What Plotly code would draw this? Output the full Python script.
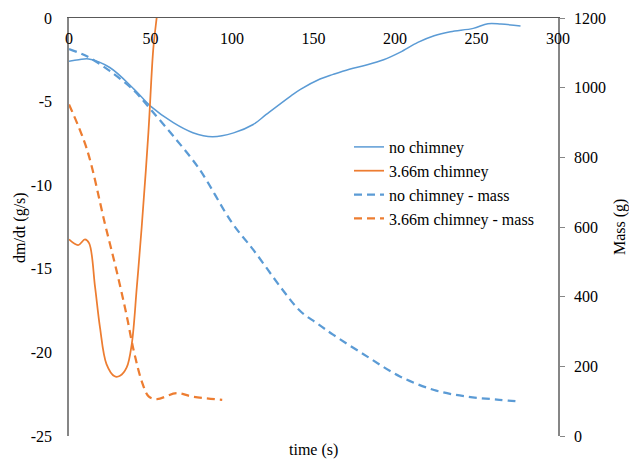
import plotly.graph_objects as go

# no chimney: dm/dt (g/s)
t_nc = [0, 6, 12, 25, 40, 50, 64, 76, 88, 101, 113, 121, 136, 142, 154, 162, 172, 183, 193, 203, 214, 224, 234, 248, 257, 265, 277]
v_nc = [-2.58, -2.5, -2.45, -2.96, -4.27, -5.27, -6.26, -6.86, -7.1, -6.87, -6.37, -5.77, -4.67, -4.27, -3.65, -3.37, -3.06, -2.8, -2.5, -2.06, -1.46, -1.06, -0.82, -0.62, -0.34, -0.36, -0.48]

# 3.66m chimney: dm/dt (g/s)
t_ch = [0, 5.6, 9.8, 12.4, 16, 19, 23, 28, 31.3, 35.4, 38.5, 41.6, 44.6, 48.7, 51.7, 54, 56]
v_ch = [-13.24, -13.58, -13.24, -13.48, -16.1, -18.5, -20.7, -21.43, -21.4, -20.9, -19.5, -16.1, -12.5, -6.87, -1.86, 0.2, 2.0]

# no chimney - mass (g)
t_ncm = [0, 11, 25, 40, 50, 64, 80, 100, 113, 131, 142, 152, 162, 183, 203, 224, 244, 264, 276]
m_ncm = [1111, 1090, 1048, 991, 938, 861, 766, 612, 535, 420, 358, 324, 291, 228, 171, 132, 113, 104, 99]

# 3.66m chimney - mass (g)
t_chm = [0, 11, 22, 29, 35, 40, 45, 49, 54, 66, 76, 94]
m_chm = [952, 823, 610, 478, 354, 239, 152, 113, 106, 123, 113, 104]

x_ticks = [0, 50, 100, 150, 200, 250, 300]
y1_ticks = [-25, -20, -15, -10, -5, 0]
y1_labels = ["-25", "-20", "-15", "-10", "-5", "0"]
y2_ticks = [0, 200, 400, 600, 800, 1000, 1200]

BLUE = "#5B9BD5"
ORANGE = "#ED7D31"
FONT = "Liberation Serif, Times New Roman, serif"
TXT = dict(family=FONT, size=16, color="#000000")

W, H = 629, 459
L, R, T, B = 69, 71, 18, 23
PW, PH = W - L - R, H - T - B


def px_x(page_x):
    return (page_x - L) / PW


def px_y(page_y):
    return (H - B - page_y) / PH


fig = go.Figure()
fig.add_trace(go.Scatter(x=t_nc, y=v_nc, mode="lines", name="no chimney",
                         line=dict(color=BLUE, width=1.5, shape="spline")))
fig.add_trace(go.Scatter(x=t_ch, y=v_ch, mode="lines", name="3.66m chimney",
                         line=dict(color=ORANGE, width=1.75, shape="spline")))
fig.add_trace(go.Scatter(x=t_ncm, y=m_ncm, mode="lines", name="no chimney - mass", yaxis="y2",
                         line=dict(color=BLUE, width=2.25, dash="8px,5px", shape="spline")))
fig.add_trace(go.Scatter(x=t_chm, y=m_chm, mode="lines", name="3.66m chimney - mass", yaxis="y2",
                         line=dict(color=ORANGE, width=2.25, dash="8px,5px", shape="spline")))

fig.update_layout(
    width=W, height=H,
    margin=dict(l=L, r=R, t=T, b=B, autoexpand=False),
    paper_bgcolor="white", plot_bgcolor="white",
    font=TXT,
    showlegend=True,
    legend=dict(x=px_x(349), y=px_y(130), xanchor="left", yanchor="top",
                font=TXT, bgcolor="rgba(0,0,0,0)", borderwidth=0, tracegroupgap=0),
    xaxis=dict(range=[0, 300], tickvals=x_ticks, ticktext=[str(v) for v in x_ticks],
               side="top", ticklabelposition="inside", ticklabeloverflow="allow",
               ticks="inside", ticklen=15, tickcolor="rgba(0,0,0,0)",
               showline=True, linecolor="#595959", linewidth=1.3, showgrid=False, zeroline=False,
               automargin=False, tickfont=TXT),
    yaxis=dict(range=[-25, 0], tickvals=y1_ticks, ticktext=y1_labels, showline=True,
               linecolor="#868686", linewidth=1.5, showgrid=False, zeroline=False, ticks="",
               ticklabelstandoff=12, ticklabeloverflow="allow", automargin=False, tickfont=TXT),
    yaxis2=dict(range=[0, 1200], tickvals=y2_ticks, ticktext=[str(v) for v in y2_ticks],
                overlaying="y", side="right", anchor="x",
                showline=True, linecolor="#868686", linewidth=1.5, showgrid=False, zeroline=False,
                ticks="outside", ticklen=5, tickcolor="#868686", ticklabelstandoff=6,
                ticklabeloverflow="allow", automargin=False, tickfont=TXT),
)

fig.add_annotation(text="time (s)", x=px_x(313), y=px_y(450), xref="paper", yref="paper",
                   showarrow=False, xanchor="center", yanchor="middle", font=TXT)
fig.add_annotation(text="dm/dt (g/s)", x=px_x(20), y=px_y(228), xref="paper", yref="paper",
                   showarrow=False, textangle=-90, xanchor="center", yanchor="middle", font=TXT)
fig.add_annotation(text="Mass (g)", x=px_x(620), y=px_y(227), xref="paper", yref="paper",
                   showarrow=False, textangle=-90, xanchor="center", yanchor="middle", font=TXT)

fig.write_html("out.html", config={"displayModeBar": False},
               post_script="document.body.style.margin='0';document.body.style.overflow='hidden';")
